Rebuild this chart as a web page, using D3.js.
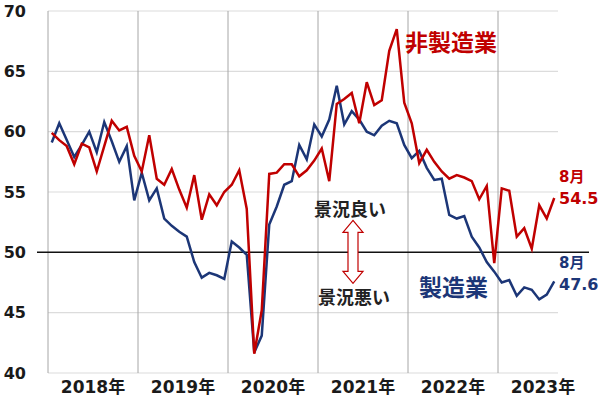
<!DOCTYPE html>
<html>
<head>
<meta charset="utf-8">
<script src="https://cdn.jsdelivr.net/npm/d3@7"></script>
<style>
  body { margin: 0; background: #fff; }
  text { font-family: "DejaVu Sans", "Noto Sans CJK JP", sans-serif; font-weight: bold; }
</style>
</head>
<body>
<div id="chart"></div>
<script>
// monthly index, Jan 2018 .. Aug 2023
const years = ["2018年", "2019年", "2020年", "2021年", "2022年", "2023年"];
const yTicks = [40, 45, 50, 55, 60, 65, 70];

// 製造業
const manufacturing = [
  59.1, 60.7, 59.3, 57.9, 58.9, 60.0, 58.3, 60.8, 59.2, 57.5, 58.8, 54.3,
  56.6, 54.3, 55.3, 52.8, 52.2, 51.7, 51.3, 49.2, 47.9, 48.3, 48.1, 47.8,
  50.9, 50.4, 49.8, 41.7, 43.1, 52.3, 53.8, 55.6, 55.9, 58.9, 57.7, 60.6,
  59.6, 61.0, 63.8, 60.6, 61.7, 61.0, 60.0, 59.7, 60.5, 60.9, 60.7, 58.9,
  57.8, 58.4, 57.0, 56.0, 56.1, 53.1, 52.8, 53.0, 51.3, 50.4, 49.2, 48.4,
  47.5, 47.7, 46.4, 47.1, 46.9, 46.1, 46.5, 47.6
];

// 非製造業
const services = [
  59.9, 59.3, 58.8, 57.3, 59.0, 58.7, 56.7, 58.8, 60.9, 60.1, 60.4, 58.0,
  56.7, 59.7, 56.1, 55.6, 56.9, 55.2, 53.7, 56.4, 52.7, 54.8, 53.9, 55.0,
  55.6, 56.8, 53.6, 41.6, 45.2, 56.5, 56.6, 57.3, 57.3, 56.3, 56.8, 57.6,
  58.6, 55.9, 62.3, 62.7, 63.2, 60.7, 64.1, 62.2, 62.6, 66.7, 68.5, 62.4,
  60.7, 57.4, 58.5, 57.5, 56.7, 56.1, 56.4, 56.2, 55.9, 54.4, 55.5, 49.1,
  55.3, 55.1, 51.3, 52.0, 50.3, 53.9, 52.8, 54.5
];

const width = 600, height = 397;
const red = "#c00000", navy = "#1c3677";

const svg = d3.select("#chart").append("svg")
  .attr("width", width)
  .attr("height", height);

const x = d3.scaleLinear().domain([0, 72]).range([48, 588]);
const y = d3.scaleLinear().domain([40, 70]).range([373, 11]);
const lastMonth = manufacturing.length; // 68

// horizontal grid
svg.append("g")
  .selectAll("line")
  .data(yTicks.filter((v) => v !== 50))
  .join("line")
  .attr("x1", x(0))
  .attr("x2", x(lastMonth))
  .attr("y1", (d) => y(d))
  .attr("y2", (d) => y(d))
  .attr("stroke", "#dcdcdc")
  .attr("stroke-width", 1.2);

// year separators
svg.append("g")
  .selectAll("line")
  .data(d3.range(years.length))
  .join("line")
  .attr("x1", (d) => x(d * 12))
  .attr("x2", (d) => x(d * 12))
  .attr("y1", y(70))
  .attr("y2", y(40))
  .attr("stroke", "#a6a6a6")
  .attr("stroke-width", 1);

// 50 line
svg.append("line")
  .attr("x1", 37)
  .attr("x2", 589)
  .attr("y1", y(50))
  .attr("y2", y(50))
  .attr("stroke", "#111")
  .attr("stroke-width", 1.5);

// y labels
svg.append("g")
  .selectAll("text")
  .data(yTicks)
  .join("text")
  .attr("x", 26)
  .attr("y", (d) => y(d))
  .attr("dy", "0.36em")
  .attr("text-anchor", "end")
  .attr("font-size", 16)
  .attr("fill", "#1a1a1a")
  .text((d) => d);

// year labels
svg.append("g")
  .selectAll("text")
  .data(years)
  .join("text")
  .attr("x", (d, i) => x(i * 12 + 6))
  .attr("y", 393)
  .attr("text-anchor", "middle")
  .attr("font-size", 17)
  .attr("fill", "#1a1a1a")
  .text((d) => d);

const line = d3.line()
  .x((d, i) => x(i + 0.5))
  .y((d) => y(d));

svg.append("path")
  .datum(manufacturing)
  .attr("d", line)
  .attr("fill", "none")
  .attr("stroke", navy)
  .attr("stroke-width", 2.5);

svg.append("path")
  .datum(services)
  .attr("d", line)
  .attr("fill", "none")
  .attr("stroke", red)
  .attr("stroke-width", 2.5);

// series labels
svg.append("text")
  .attr("x", 405).attr("y", 51)
  .attr("font-size", 23).attr("fill", red)
  .text("非製造業");

svg.append("text")
  .attr("x", 419).attr("y", 296)
  .attr("font-size", 23).attr("fill", navy)
  .text("製造業");

// latest values
const lastX = x(lastMonth) + 1;
svg.append("text")
  .attr("x", lastX).attr("y", 182)
  .attr("font-size", 15).attr("fill", red)
  .text("8月");
svg.append("text")
  .attr("x", lastX).attr("y", 204)
  .attr("font-size", 16).attr("fill", red)
  .text(services[services.length - 1].toFixed(1));
svg.append("text")
  .attr("x", lastX).attr("y", 268)
  .attr("font-size", 15).attr("fill", navy)
  .text("8月");
svg.append("text")
  .attr("x", lastX).attr("y", 290)
  .attr("font-size", 16).attr("fill", navy)
  .text(manufacturing[manufacturing.length - 1].toFixed(1));

// 景況 annotation
const ay = y(50), ax = 353;
svg.append("text")
  .attr("x", 350).attr("y", 216)
  .attr("text-anchor", "middle")
  .attr("font-size", 18).attr("fill", "#222")
  .text("景況良い");
svg.append("text")
  .attr("x", 354).attr("y", 304)
  .attr("text-anchor", "middle")
  .attr("font-size", 18).attr("fill", "#222")
  .text("景況悪い");

const arrowTop = ay - 32, arrowBot = ay + 31, hw = 10, sw = 5, hh = 12;
const arrow = [
  [ax, arrowTop], [ax + hw, arrowTop + hh], [ax + sw, arrowTop + hh],
  [ax + sw, arrowBot - hh], [ax + hw, arrowBot - hh], [ax, arrowBot],
  [ax - hw, arrowBot - hh], [ax - sw, arrowBot - hh], [ax - sw, arrowTop + hh],
  [ax - hw, arrowTop + hh]
];
svg.append("path")
  .attr("d", d3.line()(arrow) + "Z")
  .attr("fill", "#fff")
  .attr("stroke", red)
  .attr("stroke-width", 1.2);
</script>
</body>
</html>
